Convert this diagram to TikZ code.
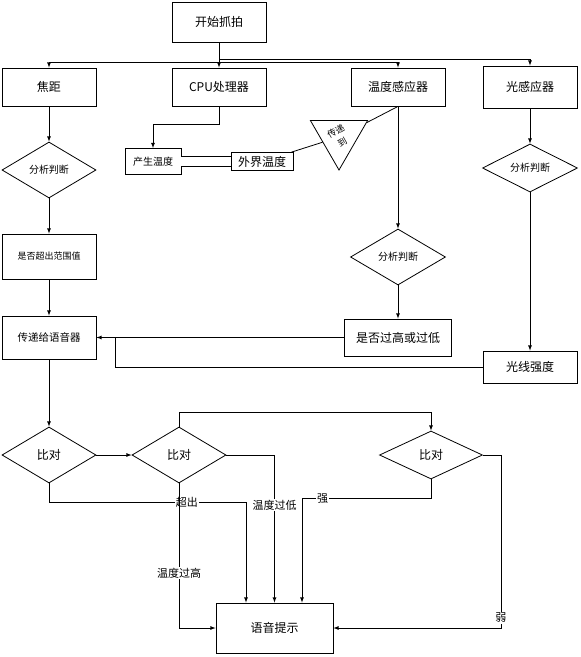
\documentclass[tikz,border=0pt]{standalone}
\usepackage{fontspec}
\setmainfont{Noto Sans CJK SC}
\usepackage{tikz}
\usetikzlibrary{shapes,arrows,positioning}

\begin{document}
\begin{tikzpicture}[x=1pt, y=1pt, node distance=83pt, line width=0.8pt]
% Define styles
\tikzstyle{process} = [rectangle, inner sep=0pt, minimum width=94pt, minimum height=38pt, text centered, draw=black, font=\fontsize{12}{14}\selectfont]
\tikzstyle{decision} = [diamond, aspect=1.7, inner sep=0pt, minimum width=94pt, minimum height=56pt, text centered, draw=black, font=\fontsize{10}{12}\selectfont]
\tikzstyle{relay} = [regular polygon, regular polygon sides=3, minimum size=66pt, inner sep=0pt, draw=black, align=center, font=\fontsize{9}{13}\selectfont]
\tikzstyle{arrow} = [->, >=latex]
\tikzstyle{linelabel} = [fill=white, inner sep=1pt, font=\fontsize{11}{12}\selectfont]

\useasboundingbox (0,0) rectangle (581,-657);

% Place nodes
\node (start) [process, minimum height=40pt] at (219,-22) {开始抓拍};
\node (cpu) [process, node distance=65pt, below of=start] {CPU处理器};
\node (focus) [process, node distance=170pt, left of=cpu] {焦距};
\node (tsensor) [process, node distance=179pt, right of=cpu] {温度感应器};
\node (lsensor) [process, minimum height=42pt, node distance=132pt, right of=tsensor] {光感应器};

\node (fdec) [decision, below of=focus] {分析判断};
\node (range) [process, minimum height=45pt, font=\fontsize{9}{11}\selectfont, node distance=86.5pt, below of=fdec] {是否超出范围值};
\node (voice) [process, minimum height=43pt, font=\fontsize{10.5}{12}\selectfont, node distance=81pt, below of=range] {传递给语音器};

\node (gen) [process, minimum width=56pt, minimum height=26pt, font=\fontsize{10}{12}\selectfont] at (153,-161.5) {产生温度};
\node (ext) [process, minimum width=62pt, minimum height=18pt, node distance=109pt, right of=gen] {外界温度};
\node (relay) [relay, rotate=30, shape border rotate=150] at (339,-137) {传递\\到};

\node (tdec) [decision, minimum width=95pt, node distance=170pt, below of=tsensor] {分析判断};
\node (hilo) [process, minimum width=107pt, minimum height=37pt, node distance=80.5pt, below of=tdec] {是否过高或过低};
\node (ldec) [decision, minimum width=95pt, minimum height=48pt, node distance=81pt, below of=lsensor] {分析判断};
\node (lint) [process, minimum height=32pt, node distance=199pt, below of=ldec] {光线强度};

\node (cmp1) [decision, font=\fontsize{12}{14}\selectfont, node distance=117.5pt, below of=voice] {比对};
\node (cmp2) [decision, font=\fontsize{12}{14}\selectfont, node distance=130pt, right of=cmp1] {比对};
\node (cmp3) [decision, minimum width=103pt, minimum height=48pt, font=\fontsize{12}{14}\selectfont, node distance=252pt, right of=cmp2] {比对};
\node (speak) [process, minimum width=117pt, minimum height=50pt] at (274.5,-628) {语音提示};
\coordinate (merge) at (115,-337.5);

% Draw arrows
\draw [arrow] (start) -- (cpu);
\draw [arrow] ([yshift=-20pt]start.south) -| (focus.north);
\draw [arrow] ([yshift=-20pt]start.south) -| (tsensor.north);
\draw [arrow] ([yshift=-17pt]start.south) -| (lsensor.north);
\draw [arrow] (cpu.south) -- ++(0,-18) -| (gen.north);
\draw [double, double distance=9pt] (gen) -- (ext);
\draw (ext) -- (relay);
\draw (tsensor.south) -- (relay);
\draw [arrow] (focus) -- (fdec);
\draw [arrow] (fdec) -- (range);
\draw [arrow] (range) -- (voice);
\draw [arrow] (tsensor) -- (tdec);
\draw [arrow] (tdec) -- (hilo);
\draw [arrow] (hilo) -- (voice);
\draw [arrow] (lsensor) -- (ldec);
\draw [arrow] (ldec) -- (lint);
\draw (lint.west) -| (merge);
\draw [arrow] (voice) -- (cmp1);
\draw [arrow] (cmp1) -- (cmp2);
\draw [arrow] (cmp1.south) -- ++(0,-19) -| node[linelabel, pos=0.35] {超出} ([xshift=-28.5pt]speak.north);
\draw [arrow] (cmp2.east) -| node[linelabel, pos=0.67] {温度过低} (speak.north);
\draw [arrow] (cmp2.south) |- node[linelabel, pos=0.31] {温度过高} (speak.west);
\draw [arrow] (cmp2.north) -- ++(0,14) -| (cmp3.north);
\draw [arrow] (cmp3.south) -- ++(0,-19) -| node[linelabel, pos=0.42] {强} ([xshift=27.5pt]speak.north);
\draw [arrow] (cmp3.east) -- ++(18,0) |- node[linelabel, pos=0.47] {弱} (speak.east);
\end{tikzpicture}
\end{document}
